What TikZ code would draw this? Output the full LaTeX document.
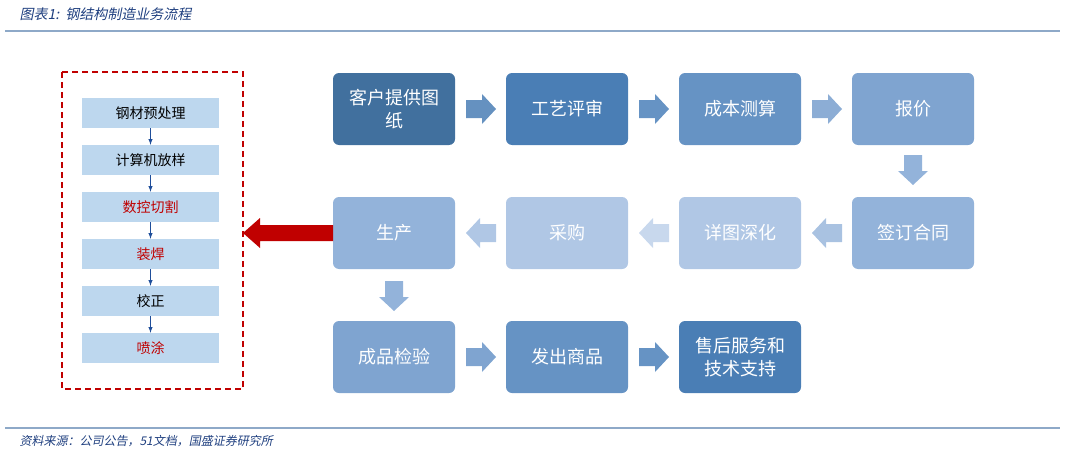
\documentclass[tikz,border=0pt]{standalone}
\usepackage{fontspec}
\newfontfamily\cjk{Noto Sans CJK SC}
\newfontfamily\cjkit[FakeSlant=0.2]{Noto Sans CJK SC}
\begin{document}
\begin{tikzpicture}[x=1pt,y=-1pt,
  bx/.style={rounded corners=6pt,minimum width=122pt,minimum height=72pt,inner sep=0pt,text=white,align=center,font=\cjk\fontsize{18}{23}\selectfont},
  sb/.style={fill=sbc,minimum width=137pt,minimum height=30pt,inner sep=0pt,font=\cjk\fontsize{14}{16}\selectfont},
  sa/.style={-latex,draw=sac,line width=1pt}]
\definecolor{c1}{HTML}{41709E}\definecolor{c2}{HTML}{4A7EB5}\definecolor{c3}{HTML}{6693C4}
\definecolor{c4}{HTML}{7FA4D0}\definecolor{c5}{HTML}{93B3DA}\definecolor{c6}{HTML}{B0C7E5}
\definecolor{sbc}{HTML}{BDD7EE}\definecolor{sac}{HTML}{1F4E9A}\definecolor{rd}{HTML}{C00000}
\definecolor{tb}{HTML}{1F3F7F}\definecolor{ln}{HTML}{8EA9C8}
\useasboundingbox (0,0) rectangle (1065,452);
\node[anchor=west,text=tb,font=\cjkit\fontsize{14}{16}\selectfont] (title) at (16,14) {图表1:\ \ 钢结构制造业务流程};
\draw[ln,line width=1.2pt] (5,31) -- (1060,31);
\draw[ln,line width=1.2pt] (5,428) -- (1060,428);
\node[anchor=west,text=tb,font=\cjkit\fontsize{12}{14}\selectfont] (src) at (16,441) {资料来源：公司公告，51文档，国盛证券研究所};
% main boxes
\node[bx,fill=c1] (b1) at (394,109) {客户提供图\\纸};
\node[bx,fill=c2] (b2) at (567,109) {工艺评审};
\node[bx,fill=c3] (b3) at (740,109) {成本测算};
\node[bx,fill=c4] (b4) at (913,109) {报价};
\node[bx,fill=c5] (b5) at (913,233) {签订合同};
\node[bx,fill=c6] (b6) at (740,233) {详图深化};
\node[bx,fill=c6] (b7) at (567,233) {采购};
\node[bx,fill=c5] (b8) at (394,233) {生产};
\node[bx,fill=c4] (b9) at (394,357) {成品检验};
\node[bx,fill=c3] (b10) at (567,357) {发出商品};
\node[bx,fill=c2] (b11) at (740,357) {售后服务和\\技术支持};
% block arrows
\newcommand{\rarr}[3]{\fill[#3] (#1-15,#2-9) -- (#1+1,#2-9) -- (#1+1,#2-15) -- (#1+15,#2) -- (#1+1,#2+15) -- (#1+1,#2+9) -- (#1-15,#2+9) -- cycle;}
\newcommand{\larr}[3]{\fill[#3] (#1+15,#2-9) -- (#1-1,#2-9) -- (#1-1,#2-15) -- (#1-15,#2) -- (#1-1,#2+15) -- (#1-1,#2+9) -- (#1+15,#2+9) -- cycle;}
\newcommand{\darr}[3]{\fill[#3] (#1-9,#2-15) -- (#1+9,#2-15) -- (#1+9,#2+1) -- (#1+15,#2+1) -- (#1,#2+15) -- (#1-15,#2+1) -- (#1-9,#2+1) -- cycle;}
\rarr{481}{109}{c2!85!white}
\rarr{654}{109}{c3}
\rarr{827}{109}{c4!90!white}
\darr{913}{170}{c5}
\larr{827}{233}{c5!80!white}
\larr{654}{233}{c6!70!white}
\larr{481}{233}{c6}
\darr{394}{296}{c5}
\rarr{481}{357}{c4}
\rarr{654}{357}{c3}
% left panel
\draw[rd,dashed,line width=1.5pt,dash pattern=on 6pt off 4pt] (62,72) rectangle (243,389);
\node[sb] (s1) at (150.5,113) {钢材预处理};
\node[sb] (s2) at (150.5,160) {计算机放样};
\node[sb,text=rd] (s3) at (150.5,207) {数控切割};
\node[sb,text=rd] (s4) at (150.5,254) {装焊};
\node[sb] (s5) at (150.5,301) {校正};
\node[sb,text=rd] (s6) at (150.5,348) {喷涂};
\foreach \a/\b in {s1/s2,s2/s3,s3/s4,s4/s5,s5/s6} \draw[sa] (\a) -- (\b);
% red arrow
\fill[rd] (333,225) -- (260,225) -- (260,218) -- (243,233) -- (260,248) -- (260,241) -- (333,241) -- cycle;
\end{tikzpicture}
\end{document}
